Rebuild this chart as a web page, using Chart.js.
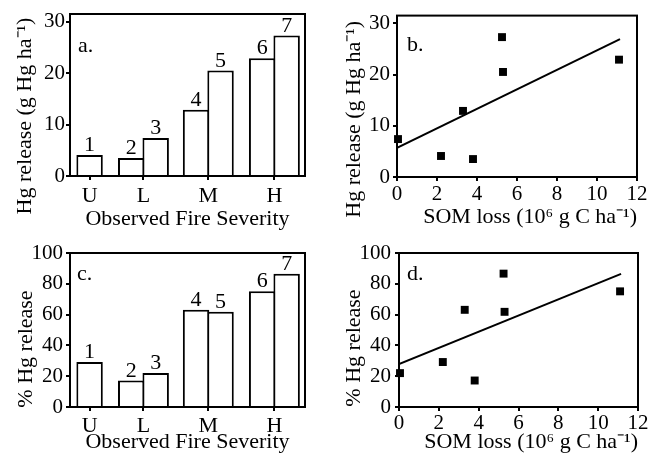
<!DOCTYPE html>
<html>
<head>
<meta charset="utf-8">
<script src="https://cdn.jsdelivr.net/npm/chart.js@4.4.0/dist/chart.umd.min.js"></script>
<style>
body { margin: 0; background: #fff; width: 650px; height: 455px; overflow: hidden; position: relative; font-family: "Liberation Serif"; }
canvas { position: absolute; }
#warm { position: absolute; left: -999px; top: 0; font: 22px "Liberation Serif"; }
</style>
</head>
<body>
<span id="warm">Hg release 0123456789 ⁻¹⁶</span>
<canvas id="pa" width="325" height="232" style="left:0;top:0"></canvas>
<canvas id="pb" width="325" height="230" style="left:325px;top:0"></canvas>
<canvas id="pc" width="325" height="225" style="left:0;top:230px"></canvas>
<canvas id="pd" width="325" height="225" style="left:325px;top:230px"></canvas>
<script>
// sites 1-7
var siteNames = ['1', '2', '3', '4', '5', '6', '7'];
var severity = ['U', 'L', 'M', 'H'];
var siteClass = ['U', 'L', 'L', 'M', 'M', 'H', 'H'];
var hgRelease = [4.1, 3.5, 7.4, 12.9, 20.5, 22.9, 27.3];
var pctRelease = [29.2, 17.2, 22.0, 63.1, 61.8, 75.1, 86.6];
var somLoss = [2.2, 3.8, 0.05, 3.3, 5.3, 11.1, 5.25];
var fitX = [0, 11.15];
var fitHg = [5.7, 26.9];
var fitPct = [27.9, 86.4];
// where each severity class sits on the bar x axis
var classAt = [0.8, 3.0, 5.65, 8.35];

var serif = '"Liberation Serif"';
var black = '#000';

//bar positions: one class centre, pairs side by side
var barX = function()
{
	return siteClass.map(function(c, i) {
		var n = siteClass.filter(function(s) { return s === c; }).length;
		var k = siteClass.slice(0, i).filter(function(s) { return s === c; }).length;
		return classAt[severity.indexOf(c)] + k - (n - 1) / 2;
	});
};

var frame = {
	id: 'frame',
	afterDatasetsDraw: function(chart, args, o) {
		var ctx = chart.ctx, a = chart.chartArea;
		ctx.save();
		ctx.strokeStyle = black;
		ctx.lineWidth = 2;
		ctx.strokeRect(a.left, a.top, a.right - a.left, a.bottom - a.top);
		ctx.font = '22px ' + serif;
		ctx.fillStyle = black;
		ctx.textAlign = 'left';
		ctx.textBaseline = 'alphabetic';
		ctx.fillText(o.tag, a.left + o.dx, a.top + o.dy);
		ctx.restore();
	}
};

var sideTitle = {
	id: 'sideTitle',
	afterDraw: function(chart, args, o) {
		var ctx = chart.ctx, a = chart.chartArea;
		ctx.save();
		ctx.font = '22px ' + serif;
		ctx.fillStyle = black;
		ctx.textAlign = 'center';
		ctx.textBaseline = 'alphabetic';
		ctx.translate(o.x, (a.top + a.bottom) / 2 + o.dy);
		ctx.rotate(-Math.PI / 2);
		ctx.fillText(o.text, 0, 0);
		ctx.restore();
	}
};

var barNumbers = {
	id: 'barNumbers',
	afterDatasetsDraw: function(chart) {
		var ctx = chart.ctx;
		ctx.save();
		ctx.font = '22px ' + serif;
		ctx.fillStyle = black;
		ctx.textAlign = 'center';
		ctx.textBaseline = 'alphabetic';
		chart.getDatasetMeta(0).data.forEach(function(bar, i) {
			ctx.fillText(siteNames[i], bar.x, bar.y - 4);
		});
		ctx.restore();
	}
};

var yAxis = function(max, step, o)
{
	return {
		min: 0, max: max,
		afterFit: function(s) { s.width = o.yw; },
		ticks: { stepSize: step, includeBounds: false, color: black, padding: o.ypad, font: { family: serif, size: 21 } },
		grid: { drawOnChartArea: false, tickLength: 4, color: black, lineWidth: 2 },
		border: { color: black, width: 2 }
	};
};

var barChart = function(id, values, yMax, step, o)
{
	var xs = barX();
	return new Chart(document.getElementById(id), {
		type: 'bar',
		data: {
			datasets: [{
				data: values.map(function(v, i) { return { x: xs[i], y: v }; }),
				backgroundColor: '#fff',
				borderColor: black,
				borderWidth: 2,
				barPercentage: 1.08,
				categoryPercentage: 1
			}]
		},
		options: {
			responsive: false, animation: false, events: [],
			layout: { padding: { top: o.top, right: o.right, left: 0, bottom: 0 }, autoPadding: false },
			plugins: {
				legend: { display: false }, tooltip: { enabled: false },
				frame: { tag: o.tag, dx: o.tdx, dy: o.tdy },
				sideTitle: { text: o.ytitle, x: o.tx, dy: o.ty }
			},
			scales: {
				x: {
					type: 'linear', offset: false, min: 0, max: 9.6,
					afterBuildTicks: function(s) { s.ticks = classAt.map(function(v) { return { value: v }; }); },
					afterFit: function(s) { s.height = o.xh; },
					ticks: {
						callback: function(v, i) { return severity[i]; },
						autoSkip: false, maxRotation: 0, color: black, padding: o.xpad,
						font: { family: serif, size: 22 }
					},
					grid: { drawOnChartArea: false, tickLength: 4, color: black, lineWidth: 2, offset: false },
					border: { color: black, width: 2 },
					title: { display: true, text: 'Observed Fire Severity', color: black, padding: 0, font: { family: serif, size: 22 } }
				},
				y: yAxis(yMax, step, o)
			}
		},
		plugins: [frame, sideTitle, barNumbers]
	});
};

var scatterChart = function(id, values, fit, yMax, step, o)
{
	return new Chart(document.getElementById(id), {
		type: 'scatter',
		data: {
			datasets: [{
				data: somLoss.map(function(x, i) { return { x: x, y: values[i] }; }),
				pointStyle: 'rect', pointRadius: 5.6, borderWidth: 0,
				backgroundColor: black, borderColor: black, clip: false
			}, {
				type: 'line',
				data: fitX.map(function(x, i) { return { x: x, y: fit[i] }; }),
				borderColor: black, borderWidth: 2, pointRadius: 0, fill: false
			}]
		},
		options: {
			responsive: false, animation: false, events: [],
			layout: { padding: { top: o.top, right: o.right, left: 0, bottom: 0 }, autoPadding: false },
			plugins: {
				legend: { display: false }, tooltip: { enabled: false },
				frame: { tag: o.tag, dx: o.tdx, dy: o.tdy },
				sideTitle: { text: o.ytitle, x: o.tx, dy: o.ty }
			},
			scales: {
				x: {
					type: 'linear', min: 0, max: 12,
					afterFit: function(s) { s.height = o.xh; },
					ticks: { stepSize: 2, includeBounds: false, maxRotation: 0, color: black, padding: o.xpad, font: { family: serif, size: 21 } },
					grid: { drawOnChartArea: false, tickLength: 4, color: black, lineWidth: 2 },
					border: { color: black, width: 2 },
					title: { display: true, align: 'end', text: 'SOM loss (10\u2076 g C ha\u207B\u00B9)', color: black, padding: 0, font: { family: serif, size: 22 } }
				},
				y: yAxis(yMax, step, o)
			}
		},
		plugins: [frame, sideTitle]
	});
};

var drawAll = function()
{
	barChart('pa', hgRelease, 31.5, 10, {
		top: 14, right: 20, yw: 70, xh: 56, xpad: 3, ypad: 1,
		tag: 'a.', tdx: 8, tdy: 37.5,
		ytitle: 'Hg release (g Hg ha\u207B\u00B9)', tx: 30.5, ty: 21
	});
	scatterChart('pb', hgRelease, fitHg, 31.5, 10, {
		top: 14, right: 13, yw: 72, xh: 53, xpad: 1, ypad: 3,
		tag: 'b.', tdx: 10, tdy: 35,
		ytitle: 'Hg release (g Hg ha\u207B\u00B9)', tx: 35, ty: 23
	});
	barChart('pc', pctRelease, 100, 20, {
		top: 23, right: 20, yw: 70, xh: 48, xpad: 2, ypad: 3,
		tag: 'c.', tdx: 7, tdy: 27,
		ytitle: '% Hg release', tx: 31.5, ty: 19
	});
	scatterChart('pd', pctRelease, fitPct, 100, 20, {
		top: 23, right: 12, yw: 74, xh: 48, xpad: 0, ypad: 4,
		tag: 'd.', tdx: 8, tdy: 27,
		ytitle: '% Hg release', tx: 35, ty: 18
	});
};

//make sure the serif face is ready before drawing on canvas
document.fonts.load('22px "Liberation Serif"').then(drawAll, drawAll);
</script>
</body>
</html>
